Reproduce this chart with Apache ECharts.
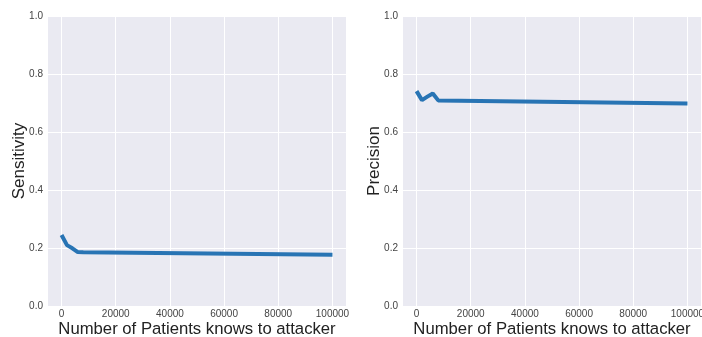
<!DOCTYPE html>
<html><head><meta charset="utf-8">
<script src="https://cdn.jsdelivr.net/npm/echarts@6/dist/echarts.min.js"></script>
<style>html,body{margin:0;padding:0;background:#fff}#c{width:702px;height:337px}</style>
</head><body><div id="c"></div>
<script>
const patients = [0, 2000, 4000, 6000, 8000, 100000];
const sensitivity = [0.245, 0.21, 0.199, 0.186, 0.185, 0.177];
const precision = [0.741, 0.710, 0.722, 0.733, 0.709, 0.698];
const xTicks = [0, 20000, 40000, 60000, 80000, 100000];
const yTicks = [0, 0.2, 0.4, 0.6, 0.8, 1.0];
const xTitle = 'Number of Patients knows to attacker';
const yTitles = ['Sensitivity', 'Precision'];

const font = '"Liberation Sans", Arial, sans-serif';
const chart = echarts.init(document.getElementById('c'), null, {renderer: 'canvas'});
const grids = [
  {left: 48, top: 16, width: 298, height: 290},
  {left: 403, top: 16, width: 298, height: 290}
];
function xAxis(i) {
  return {
    type: 'value', gridIndex: i, min: -5000, max: 105000,
    axisLine: {show: false}, axisTick: {show: false, customValues: xTicks},
    axisLabel: {customValues: xTicks, color: '#444', fontSize: 10, fontFamily: font, margin: 3, formatter: v => String(v)},
    splitLine: {show: true, lineStyle: {color: '#fff', width: 1}},
    name: xTitle, nameLocation: 'middle', nameGap: 15, nameMoveOverlap: false,
    nameTextStyle: {fontSize: 16.7, fontFamily: font, color: '#222', verticalAlign: 'top'}
  };
}
function yAxis(i) {
  return {
    type: 'value', gridIndex: i, min: 0, max: 1, interval: 0.2,
    axisLine: {show: false}, axisTick: {show: false},
    axisLabel: {color: '#444', fontSize: 10, fontFamily: font, margin: 5, formatter: v => v.toFixed(1)},
    splitLine: {show: true, lineStyle: {color: '#fff', width: 1}},
    name: yTitles[i], nameLocation: 'middle', nameGap: 20, nameMoveOverlap: false,
    nameTextStyle: {fontSize: 17, fontFamily: font, color: '#222'}
  };
}
chart.setOption({
  animation: false,
  backgroundColor: '#fff',
  grid: grids.map(g => Object.assign({show: true, backgroundColor: '#EAEAF2', borderWidth: 0, outerBoundsMode: 'none', containLabel: false}, g)),
  xAxis: [xAxis(0), xAxis(1)],
  yAxis: [yAxis(0), yAxis(1)],
  series: [
    {type: 'line', xAxisIndex: 0, yAxisIndex: 0, data: patients.map((x, k) => [x, sensitivity[k]]),
     showSymbol: false, lineStyle: {color: '#2874b4', width: 4}},
    {type: 'line', xAxisIndex: 1, yAxisIndex: 1, data: patients.map((x, k) => [x, precision[k]]),
     showSymbol: false, lineStyle: {color: '#2874b4', width: 4}}
  ]
});
</script></body></html>
